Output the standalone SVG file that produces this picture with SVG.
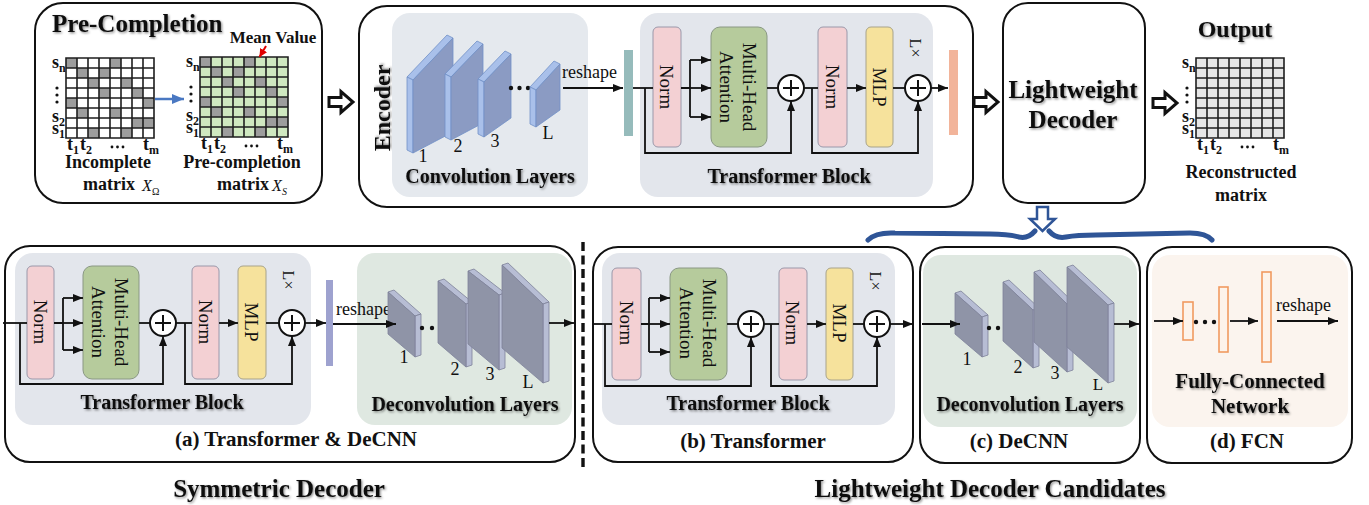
<svg xmlns="http://www.w3.org/2000/svg" xmlns:xlink="http://www.w3.org/1999/xlink" width="1369" height="505" viewBox="0 0 1369 505">
<style>
.t{font-family:"Liberation Serif","DejaVu Serif",serif;fill:#111}
.b{font-weight:bold}
.sh{filter:url(#sh)}
.box{fill:#fff;stroke:#111;stroke-width:2}
.ln{stroke:#111;stroke-width:1.8;fill:none}
.arr{marker-end:url(#ah)}
.norm{fill:#f3d0d3;stroke:#9a98aa;stroke-width:1}
.mha{fill:#b6cb9c;stroke:#8a9884;stroke-width:1}
.mlp{fill:#f6e29c;stroke:#a8a38a;stroke-width:1}
.cf{fill:#8b9bc3;stroke:#7190c6;stroke-width:0.8}
.cs{fill:#a9c0ea;stroke:#7190c6;stroke-width:0.8}
.df{fill:#8f94a7;stroke:#7d8299;stroke-width:0.8}
.ds{fill:#b7bdd4;stroke:#7d8299;stroke-width:0.8}
.fc{fill:#fdf3ea;stroke:#f09a60;stroke-width:1.6}
.hol{fill:#fff;stroke:#111;stroke-width:3;stroke-linejoin:miter}
.dot{fill:#111}
</style>
<defs>
<filter id="sh" x="-5%" y="-20%" width="115%" height="150%">
<feDropShadow dx="1.2" dy="1.3" stdDeviation="0.9" flood-color="#000" flood-opacity="0.45"/>
</filter>
<marker id="ah" viewBox="0 0 10 8" refX="10" refY="4" markerWidth="10" markerHeight="8" markerUnits="userSpaceOnUse" orient="auto">
<path d="M0,0 L10,4 L0,8 z" fill="#111"/>
</marker>
<marker id="ahb" viewBox="0 0 12 10" refX="12" refY="5" markerWidth="12" markerHeight="10" markerUnits="userSpaceOnUse" orient="auto">
<path d="M0,0 L12,5 L0,10 z" fill="#4a78c2"/>
</marker>
<marker id="ahr" viewBox="0 0 8 8" refX="8" refY="4" markerWidth="8" markerHeight="8" markerUnits="userSpaceOnUse" orient="auto">
<path d="M0,0 L8,4 L0,8 z" fill="#e00000"/>
</marker>
<!-- observed (gray) entries of the 8x8 matrix -->
<path id="holes" fill="#9d9d9d" d="M0,0h11v10h-11z M44,0h11v10h-11z M11,10h11v10h-11z M33,10h11v10h-11z M22,20h11v10h-11z M55,20h11v10h-11z M33,30h11v10h-11z M66,30h11v10h-11z M0,40h11v10h-11z M77,40h11v10h-11z M11,50h11v10h-11z M44,50h11v10h-11z M66,60h11v10h-11z M77,60h11v10h-11z M22,70h11v10h-11z M55,70h11v10h-11z"/>
<path id="grid" fill="none" stroke="#1e1e1e" stroke-width="1.6" d="M0,0H88V80H0Z M11,0V80 M22,0V80 M33,0V80 M44,0V80 M55,0V80 M66,0V80 M77,0V80 M0,10H88 M0,20H88 M0,30H88 M0,40H88 M0,50H88 M0,60H88 M0,70H88"/>
<!-- row / column labels of a matrix -->
<g id="mlab">
<text class="t b" x="-14" y="10" font-size="18">s</text><text class="t b" x="-7" y="14" font-size="12">n</text>
<circle class="dot" cx="-9" cy="30" r="1.6"/><circle class="dot" cx="-9" cy="37" r="1.6"/><circle class="dot" cx="-9" cy="44" r="1.6"/>
<text class="t b" x="-14" y="64" font-size="18">s</text><text class="t b" x="-7" y="68" font-size="12">2</text>
<text class="t b" x="-14" y="76" font-size="18">s</text><text class="t b" x="-7" y="80" font-size="12">1</text>
<text class="t b" x="1" y="92" font-size="18">t</text><text class="t b" x="7" y="96" font-size="12">1</text>
<text class="t b" x="14" y="92" font-size="18">t</text><text class="t b" x="20" y="96" font-size="12">2</text>
<circle class="dot" cx="46" cy="89" r="1.4"/><circle class="dot" cx="51.5" cy="89" r="1.4"/><circle class="dot" cx="57" cy="89" r="1.4"/>
<text class="t b" x="77" y="92" font-size="18">t</text><text class="t b" x="83" y="96" font-size="12">m</text>
</g>
<g id="plus">
<circle r="13" fill="#fff" stroke="#111" stroke-width="2"/>
<path d="M-8,0H8M0,-8V8" stroke="#111" stroke-width="2"/>
</g>
<path id="hollow" d="M-12,-4.5H0V-10.5L12,0L0,10.5V4.5H-12Z"/>
</defs>

<rect width="1369" height="505" fill="#fff"/>

<!-- ===== Pre-completion ===== -->
<g id="pre-completion">
<rect class="box" x="35" y="3" width="287" height="200" rx="28"/>
<text class="t b sh" x="52" y="32" font-size="25">Pre-Completion</text>
<g transform="translate(66,58)">
<rect width="88" height="80" fill="#fff"/>
<use href="#holes"/><use href="#grid"/><use href="#mlab"/>
</g>
<g transform="translate(200,57)">
<rect width="88" height="80" fill="#cfe8c0"/>
<use href="#holes"/><use href="#grid"/><use href="#mlab"/>
</g>
<text class="t b" x="273" y="43" font-size="17" text-anchor="middle">Mean Value</text>
<path d="M266,46 L259.5,57" stroke="#e00000" stroke-width="2" marker-end="url(#ahr)"/>
<path d="M155,99 H184" stroke="#4a78c2" stroke-width="2.5" marker-end="url(#ahb)"/>
<text class="t b" x="108" y="168" font-size="18" text-anchor="middle">Incomplete</text>
<text class="t b" x="83" y="190" font-size="18">matrix</text>
<text class="t" x="142" y="191" font-size="16" font-style="italic" fill="#333">X</text>
<text class="t" x="152" y="195" font-size="10" fill="#333">Ω</text>
<text class="t b" x="242" y="168" font-size="18" text-anchor="middle">Pre-completion</text>
<text class="t b" x="217" y="190" font-size="18">matrix</text>
<text class="t" x="272" y="191" font-size="16" font-style="italic" fill="#333">X</text>
<text class="t" x="282" y="195" font-size="10" font-style="italic" fill="#333">S</text>
</g>

<!-- ===== Encoder ===== -->
<g id="encoder">
<rect class="box" x="359" y="6" width="614" height="201" rx="28"/>
<text class="t b sh" font-size="24" text-anchor="middle" transform="translate(382,108) rotate(-90)" y="8">Encoder</text>
<rect x="392" y="13" width="196" height="184" rx="18" fill="#e5e9ee"/>
<polygon class="cs" points="407,77 447,35 453,38 413,80"/><polygon class="cs" points="407,77 413,80 413,153 407,150"/><polygon class="cf" points="413,80 453,38 453,132 413,153"/>
<polygon class="cs" points="445,74 477,41 483,44 451,77"/><polygon class="cs" points="445,74 451,77 451,140 445,137"/><polygon class="cf" points="451,77 483,44 483,123 451,140"/>
<polygon class="cs" points="478,79 505,51 511,54 484,82"/><polygon class="cs" points="478,79 484,82 484,137 478,134"/><polygon class="cf" points="484,82 511,54 511,118 484,137"/>
<circle class="dot" cx="511" cy="88" r="2.2"/><circle class="dot" cx="519.5" cy="88" r="2.2"/><circle class="dot" cx="528" cy="88" r="2.2"/>
<polygon class="cs" points="530,87 554,61 560,64 536,90"/><polygon class="cs" points="530,87 536,90 536,127 530,124"/><polygon class="cf" points="536,90 560,64 560,110 536,127"/>
<text class="t" x="423" y="162" font-size="18" text-anchor="middle">1</text>
<text class="t" x="458" y="152" font-size="18" text-anchor="middle">2</text>
<text class="t" x="495" y="147" font-size="18" text-anchor="middle">3</text>
<text class="t" x="548" y="139" font-size="18" text-anchor="middle">L</text>
<text class="t b sh" x="490" y="183" font-size="20" text-anchor="middle">Convolution Layers</text>
<text class="t" x="562" y="78" font-size="18">reshape</text>
<rect x="624" y="50" width="9" height="86" fill="#96bbbb"/>
<rect x="640" y="13" width="293" height="184" rx="18" fill="#e3e6ec"/>
<rect class="norm" x="653" y="27" width="28" height="120" rx="5"/>
<text class="t" font-size="19" text-anchor="middle" transform="translate(667,87) rotate(90)" y="7">Norm</text>
<rect class="mha" x="711" y="27" width="56" height="120" rx="9"/>
<text class="t" font-size="19" text-anchor="middle" transform="translate(739,87) rotate(90)"><tspan x="0" y="-4">Multi-Head</tspan><tspan x="0" y="19">Attention</tspan></text>
<rect class="norm" x="818" y="27" width="29" height="120" rx="5"/>
<text class="t" font-size="19" text-anchor="middle" transform="translate(832.5,87) rotate(90)" y="7">Norm</text>
<rect class="mlp" x="866" y="27" width="27" height="120" rx="5"/>
<text class="t" font-size="19" text-anchor="middle" transform="translate(879.5,87) rotate(90)" y="7">MLP</text>
<text class="t" font-size="16" text-anchor="middle" transform="translate(915,48) rotate(90)" y="5">L×</text>
<text class="t b sh" x="789" y="183" font-size="20" text-anchor="middle">Transformer Block</text>
<rect x="949" y="50" width="9" height="85" fill="#f2b49a"/>
</g>

<!-- ===== Lightweight decoder ===== -->
<g id="lightweight-decoder">
<rect class="box" x="1003" y="3" width="142" height="200" rx="25"/>
<text class="t b sh" x="1073" y="98" font-size="25" text-anchor="middle">Lightweight</text>
<text class="t b sh" x="1073" y="128" font-size="25" text-anchor="middle">Decoder</text>
</g>

<!-- ===== Output ===== -->
<g id="output">
<text class="t b sh" x="1235" y="37" font-size="24" text-anchor="middle">Output</text>
<g transform="translate(1196,58)">
<rect width="88" height="80" fill="#e6e6e6"/>
<use href="#grid"/><use href="#mlab"/>
</g>
<text class="t b" x="1241" y="178" font-size="18" text-anchor="middle">Reconstructed</text>
<text class="t b" x="1241" y="201" font-size="18" text-anchor="middle">matrix</text>
</g>

<!-- ===== (a) Transformer & DeCNN ===== -->
<g id="decoder-a">
<rect class="box" x="5" y="246" width="570" height="216" rx="25"/>
<rect x="15" y="253" width="296" height="172" rx="18" fill="#e3e6ec"/>
<rect class="norm" x="27" y="266" width="27" height="113" rx="5"/>
<text class="t" font-size="19" text-anchor="middle" transform="translate(40.5,322) rotate(90)" y="7">Norm</text>
<rect class="mha" x="83" y="266" width="56" height="113" rx="9"/>
<text class="t" font-size="19" text-anchor="middle" transform="translate(111,322) rotate(90)"><tspan x="0" y="-4">Multi-Head</tspan><tspan x="0" y="19">Attention</tspan></text>
<rect class="norm" x="192" y="266" width="27" height="113" rx="5"/>
<text class="t" font-size="19" text-anchor="middle" transform="translate(205.5,322) rotate(90)" y="7">Norm</text>
<rect class="mlp" x="238" y="266" width="28" height="113" rx="5"/>
<text class="t" font-size="19" text-anchor="middle" transform="translate(252,322) rotate(90)" y="7">MLP</text>
<text class="t" font-size="16" text-anchor="middle" transform="translate(288,280) rotate(90)" y="5">L×</text>
<text class="t b sh" x="162" y="409" font-size="20" text-anchor="middle">Transformer Block</text>
<rect x="326" y="280" width="7" height="86" fill="#9ea2cf"/>
<rect x="357" y="253" width="215" height="172" rx="18" fill="#dfe8e1"/>
<text class="t" x="336" y="315" font-size="18">reshape</text>
<polygon class="ds" points="388,292 394,290 421,314 415,316"/><polygon class="ds" points="415,316 421,314 421,355 415,357"/><polygon class="df" points="388,292 415,316 415,357 388,334"/>
<circle class="dot" cx="422" cy="328" r="2.2"/><circle class="dot" cx="432" cy="328" r="2.2"/><circle class="dot" cx="442" cy="328" r="2.2"/>
<polygon class="ds" points="438,281 444,279 472,302 466,304"/><polygon class="ds" points="466,304 472,302 472,365 466,367"/><polygon class="df" points="438,281 466,304 466,367 438,343"/>
<polygon class="ds" points="468,271 474,269 505,293 499,295"/><polygon class="ds" points="499,295 505,293 505,368 499,370"/><polygon class="df" points="468,271 499,295 499,370 468,344"/>
<polygon class="ds" points="502,265 508,263 549,302 543,304"/><polygon class="ds" points="543,304 549,302 549,381 543,383"/><polygon class="df" points="502,265 543,304 543,383 502,348"/>
<text class="t" x="404" y="363" font-size="18" text-anchor="middle">1</text>
<text class="t" x="455" y="375" font-size="18" text-anchor="middle">2</text>
<text class="t" x="490" y="380" font-size="18" text-anchor="middle">3</text>
<text class="t" x="528" y="388" font-size="18" text-anchor="middle">L</text>
<text class="t b sh" x="465" y="411" font-size="20" text-anchor="middle">Deconvolution Layers</text>
<text class="t b" x="296" y="446" font-size="21" text-anchor="middle">(a) Transformer &amp; DeCNN</text>
</g>

<!-- ===== (b) Transformer ===== -->
<g id="decoder-b">
<rect class="box" x="593" y="247" width="320" height="215" rx="25"/>
<rect x="602" y="253" width="293" height="172" rx="18" fill="#e3e6ec"/>
<rect class="norm" x="612" y="268" width="29" height="112" rx="5"/>
<text class="t" font-size="19" text-anchor="middle" transform="translate(626.5,323) rotate(90)" y="7">Norm</text>
<rect class="mha" x="670" y="268" width="57" height="112" rx="9"/>
<text class="t" font-size="19" text-anchor="middle" transform="translate(698.5,323) rotate(90)"><tspan x="0" y="-4">Multi-Head</tspan><tspan x="0" y="19">Attention</tspan></text>
<rect class="norm" x="779" y="268" width="28" height="112" rx="5"/>
<text class="t" font-size="19" text-anchor="middle" transform="translate(793,323) rotate(90)" y="7">Norm</text>
<rect class="mlp" x="826" y="268" width="27" height="112" rx="5"/>
<text class="t" font-size="19" text-anchor="middle" transform="translate(839.5,323) rotate(90)" y="7">MLP</text>
<text class="t" font-size="16" text-anchor="middle" transform="translate(875,281) rotate(90)" y="5">L×</text>
<text class="t b sh" x="748" y="410" font-size="20" text-anchor="middle">Transformer Block</text>
<text class="t b" x="753" y="448" font-size="21" text-anchor="middle">(b) Transformer</text>
</g>

<!-- ===== (c) DeCNN ===== -->
<g id="decoder-c">
<rect class="box" x="920" y="247" width="220" height="216" rx="25"/>
<rect x="923" y="255" width="214" height="172" rx="18" fill="#dfe8e1"/>
<polygon class="ds" points="955,293 961,291 988,315 982,317"/><polygon class="ds" points="982,317 988,315 988,355 982,357"/><polygon class="df" points="955,293 982,317 982,357 955,334"/>
<circle class="dot" cx="989" cy="328" r="2.2"/><circle class="dot" cx="998" cy="328" r="2.2"/><circle class="dot" cx="1007" cy="328" r="2.2"/>
<polygon class="ds" points="1003,282 1009,280 1039,308 1033,310"/><polygon class="ds" points="1033,310 1039,308 1039,366 1033,368"/><polygon class="df" points="1003,282 1033,310 1033,368 1003,341"/>
<polygon class="ds" points="1034,272 1040,270 1073,302 1067,304"/><polygon class="ds" points="1067,304 1073,302 1073,370 1067,372"/><polygon class="df" points="1034,272 1067,304 1067,372 1034,342"/>
<polygon class="ds" points="1067,267 1073,265 1114,303 1108,305"/><polygon class="ds" points="1108,305 1114,303 1114,381 1108,383"/><polygon class="df" points="1067,267 1108,305 1108,383 1067,347"/>
<text class="t" x="967" y="365" font-size="18" text-anchor="middle">1</text>
<text class="t" x="1018" y="373" font-size="18" text-anchor="middle">2</text>
<text class="t" x="1055" y="379" font-size="18" text-anchor="middle">3</text>
<text class="t" x="1098" y="390" font-size="17" text-anchor="middle">L</text>
<text class="t b sh" x="1030" y="411" font-size="20" text-anchor="middle">Deconvolution Layers</text>
<text class="t b" x="1019" y="448" font-size="21" text-anchor="middle">(c) DeCNN</text>
</g>

<!-- ===== (d) FCN ===== -->
<g id="decoder-d">
<rect class="box" x="1147" y="247" width="205" height="216" rx="25"/>
<rect x="1152" y="255" width="196" height="172" rx="18" fill="#fbf4ee"/>
<rect class="fc" x="1183" y="302" width="10" height="38"/>
<circle class="dot" cx="1196" cy="322" r="2.2"/><circle class="dot" cx="1205" cy="322" r="2.2"/><circle class="dot" cx="1214" cy="322" r="2.2"/>
<rect class="fc" x="1219" y="287" width="9" height="65"/>
<rect class="fc" x="1262" y="272" width="9" height="90"/>
<text class="t" x="1276" y="311" font-size="18">reshape</text>
<text class="t b sh" x="1250" y="388" font-size="21" text-anchor="middle">Fully-Connected</text>
<text class="t b sh" x="1250" y="413" font-size="21" text-anchor="middle">Network</text>
<text class="t b" x="1247" y="448" font-size="21" text-anchor="middle">(d) FCN</text>
</g>

<!-- ===== group captions ===== -->
<g id="captions">
<text class="t b sh" x="279" y="497" font-size="25" text-anchor="middle">Symmetric Decoder</text>
<text class="t b sh" x="990" y="497" font-size="25" text-anchor="middle">Lightweight Decoder Candidates</text>
</g>

<!-- ===== connectors ===== -->
<g id="connectors">
<!-- stage arrows -->
<use href="#hollow" class="hol" x="341" y="102"/>
<use href="#hollow" class="hol" x="986" y="102"/>
<use href="#hollow" class="hol" x="1165" y="103"/>
<!-- decoder candidates brace -->
<path d="M1037,207 H1048 V219 H1055 L1042.5,231 L1030,219 H1037 Z" fill="#fff" stroke="#2f5597" stroke-width="2.5"/>
<path d="M868,240 Q876,232 895,233 L990,234 Q1008,234 1019,237 Q1028,239 1035,231 M1049,231 Q1056,239 1066,237 Q1077,235 1096,235 L1190,233 Q1206,233 1212,240" fill="none" stroke="#2f5597" stroke-width="5" stroke-linecap="round"/>
<!-- dashed separator -->
<path d="M583,242 V468" stroke="#111" stroke-width="3.4" stroke-dasharray="9 4.5"/>

<!-- encoder -->
<path class="ln arr" d="M563,88 H623"/>
<path class="ln" d="M633,88 H653"/>
<path class="ln arr" d="M645,88 V153 H791 V101"/>
<path class="ln" d="M681,88 H690 M690,60 V117"/>
<path class="ln arr" d="M690,60 H711"/><path class="ln arr" d="M690,88 H711"/><path class="ln arr" d="M690,117 H711"/>
<path class="ln" d="M767,88 H778"/>
<use href="#plus" x="791" y="88"/>
<path class="ln" d="M804,88 H818"/>
<path class="ln arr" d="M812,88 V153 H918 V101"/>
<path class="ln arr" d="M847,88 H866"/>
<path class="ln" d="M893,88 H905"/>
<use href="#plus" x="918" y="88"/>
<path class="ln arr" d="M931,88 H948"/>

<!-- (a) -->
<path class="ln" d="M3,323 H27"/>
<path class="ln arr" d="M20,323 V384 H163 V336"/>
<path class="ln" d="M54,323 H63 M63,298 V350"/>
<path class="ln arr" d="M63,298 H83"/><path class="ln arr" d="M63,323 H83"/><path class="ln arr" d="M63,350 H83"/>
<path class="ln" d="M139,323 H150"/>
<use href="#plus" x="163" y="323"/>
<path class="ln" d="M176,323 H192"/>
<path class="ln arr" d="M185,323 V384 H292 V336"/>
<path class="ln arr" d="M219,323 H238"/>
<path class="ln" d="M266,323 H279"/>
<use href="#plus" x="292" y="323"/>
<path class="ln arr" d="M305,323 H326"/>
<path class="ln arr" d="M333,324 H396"/>
<path class="ln arr" d="M549,323 H574"/>

<!-- (b) -->
<path class="ln" d="M593,324 H612"/>
<path class="ln arr" d="M605,324 V386 H751 V337"/>
<path class="ln" d="M641,324 H649 M649,298 V352"/>
<path class="ln arr" d="M649,298 H670"/><path class="ln arr" d="M649,324 H670"/><path class="ln arr" d="M649,352 H670"/>
<path class="ln" d="M727,324 H738"/>
<use href="#plus" x="751" y="324"/>
<path class="ln" d="M764,324 H779"/>
<path class="ln arr" d="M771,324 V386 H877 V337"/>
<path class="ln arr" d="M807,324 H826"/>
<path class="ln" d="M853,324 H864"/>
<use href="#plus" x="877" y="324"/>
<path class="ln arr" d="M890,324 H913"/>

<!-- (c) -->
<path class="ln arr" d="M922,324 H960"/>
<path class="ln arr" d="M1114,324 H1139"/>

<!-- (d) -->
<path class="ln arr" d="M1154,321 H1183"/>
<path class="ln arr" d="M1230,321 H1258"/>
<path class="ln arr" d="M1277,321 H1338"/>
</g>
</svg>
